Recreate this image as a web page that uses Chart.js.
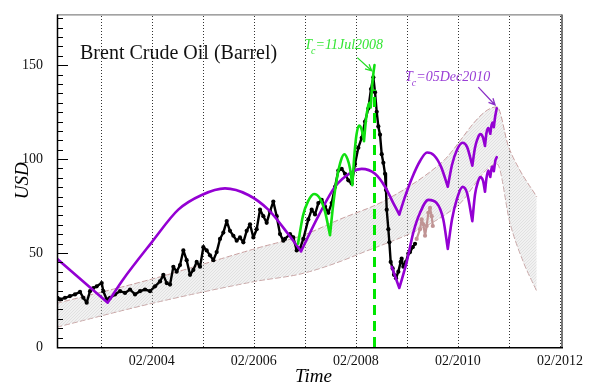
<!DOCTYPE html>
<html>
<head>
<meta charset="utf-8">
<script src="https://cdn.jsdelivr.net/npm/chart.js@4.4.1/dist/chart.umd.min.js"></script>
<style>
  html, body { margin: 0; padding: 0; background: #fff; }
  #wrap { width: 594px; height: 387px; }
</style>
</head>
<body>
<div id="wrap"><canvas id="brentChart" width="594" height="387"></canvas></div>
<script>
// Brent spot price, decimal year / USD per barrel
var priceT = [2002.314, 2002.363, 2002.461, 2002.559, 2002.657, 2002.755, 2002.820, 2002.886, 2002.951, 2003.016,
  2003.082, 2003.180, 2003.212, 2003.278, 2003.343, 2003.441, 2003.539, 2003.637, 2003.735, 2003.833,
  2003.931, 2004.029, 2004.127, 2004.225, 2004.323, 2004.388, 2004.453, 2004.519, 2004.584, 2004.649,
  2004.715, 2004.780, 2004.845, 2004.911, 2004.976, 2005.041, 2005.107, 2005.172, 2005.237, 2005.302,
  2005.368, 2005.433, 2005.498, 2005.564, 2005.629, 2005.694, 2005.760, 2005.825, 2005.890, 2005.956,
  2006.021, 2006.086, 2006.152, 2006.217, 2006.282, 2006.348, 2006.413, 2006.478, 2006.543, 2006.609,
  2006.674, 2006.739, 2006.772, 2006.870, 2006.935, 2007.001, 2007.066, 2007.131, 2007.229, 2007.295,
  2007.360, 2007.425, 2007.491, 2007.556, 2007.621, 2007.687, 2007.752, 2007.817, 2007.883, 2007.948,
  2008.013, 2008.079, 2008.144, 2008.209, 2008.275, 2008.340, 2008.405, 2008.457, 2008.503, 2008.536,
  2008.569, 2008.601, 2008.634, 2008.667, 2008.699, 2008.732, 2008.751, 2008.765, 2008.797, 2008.817,
  2008.843, 2008.882, 2008.908, 2008.947, 2008.993, 2009.039, 2009.058, 2009.091, 2009.143, 2009.189,
  2009.222, 2009.274, 2009.320];
var priceV = [26.2, 25.3, 26.2, 27.1, 28.0, 29.3, 26.2, 23.6, 29.7, 31.4,
  32.3, 34.0, 29.7, 25.3, 26.2, 28.0, 29.7, 28.8, 30.6, 28.0,
  29.7, 30.6, 29.7, 32.3, 34.9, 38.4, 34.0, 33.2, 42.7, 40.1,
  43.6, 51.4, 46.2, 38.4, 41.0, 45.3, 42.7, 53.1, 51.4, 48.8,
  46.2, 50.5, 57.5, 60.9, 67.0, 61.8, 59.2, 56.6, 58.3, 55.7,
  61.8, 65.3, 58.3, 62.7, 73.1, 69.6, 66.1, 72.2, 77.4, 69.6,
  60.1, 56.6, 57.5, 60.1, 58.3, 51.4, 52.3, 57.5, 67.9, 73.1,
  70.5, 76.6, 78.3, 74.8, 71.4, 76.6, 85.2, 93.9, 94.8, 92.2,
  88.7, 87.0, 97.4, 106.1, 111.3, 120.0, 126.9, 137.3, 143.5, 135.6,
  125.2, 117.4, 113.0, 102.6, 98.0, 92.2, 83.5, 73.1, 62.7, 55.7,
  45.3, 41.8, 38.4, 36.6, 40.1, 45.3, 47.0, 42.7, 45.3, 49.7,
  50.5, 53.1, 54.9];

// prices after the fit window
var laterT = [2009.352, 2009.418, 2009.450, 2009.483, 2009.516, 2009.548, 2009.581, 2009.614, 2009.646, 2009.668];
var laterV = [57.5, 62.7, 67.9, 65.3, 59.2, 64.4, 71.4, 74.0, 69.6, 64.4];

// LPPL fit ending at Tc = 11 Jul 2008 (null splits the arcs at their cusps)
var fit2008T = [2007.027, 2007.125, 2007.223, 2007.340, 2007.458, 2007.556, 2007.654, 2007.654,
  2007.654, 2007.713, 2007.791, 2007.870, 2007.934, 2007.997, 2008.046, 2008.091, 2008.091,
  2008.091, 2008.134, 2008.173, 2008.222, 2008.271, 2008.320, 2008.320,
  2008.320, 2008.359, 2008.399, 2008.428, 2008.452, 2008.452,
  2008.452, 2008.477, 2008.506, 2008.526];
var fit2008V = [55, 70, 77.5, 81.4, 79, 72, 59.5, null,
  59.5, 75, 90, 99.5, 102.6, 100, 95, 86.1, null,
  86.1, 103, 113, 117.9, 116, 109.5, null,
  109.5, 121, 128, 130, 127.5, null,
  127.5, 138, 146, 150];

// LPPL fit ending at Tc = 05 Dec 2010, upper branch
var fit2010T = [2002.304, 2003.298, 2003.298,
  2003.298, 2003.572, 2004.160, 2004.681, 2005.140, 2005.596, 2006.053, 2006.445, 2006.837, 2007.086, 2007.086,
  2007.086, 2007.425, 2007.752, 2008.079, 2008.275, 2008.536, 2008.732, 2008.894, 2009.012, 2009.012,
  2009.012, 2009.124, 2009.261, 2009.418, 2009.555, 2009.692, 2009.829, 2009.962, 2009.962,
  2009.962, 2010.045, 2010.143, 2010.251, 2010.339, 2010.443, 2010.443,
  2010.443, 2010.495, 2010.554, 2010.603, 2010.652, 2010.691, 2010.691,
  2010.691, 2010.721, 2010.756, 2010.795, 2010.795,
  2010.795, 2010.819, 2010.838, 2010.864, 2010.864,
  2010.864, 2010.887, 2010.921];
var fit2010V = [47.0, 23.6, null,
  23.6, 34.9, 55.7, 73.1, 80.9, 84.4, 80.9, 73.1, 60.0, 50.9, null,
  50.9, 69.6, 85.3, 93.1, 94.8, 92.2, 85.3, 76.6, 70.5, null,
  70.5, 80, 90, 99, 103.5, 102, 96, 85.3, null,
  85.3, 97, 105, 108.7, 106.5, 96.5, null,
  96.5, 106, 111.5, 113.3, 111.5, 107, null,
  107, 114, 116.5, 113.5, null,
  113.5, 118, 119.5, 117, null,
  117, 122, 127];

// same fit, lower branch
var fit2010LowT = [2008.863, 2009.012, 2009.012,
  2009.012, 2009.157, 2009.286, 2009.418, 2009.580, 2009.745, 2009.874, 2009.962, 2009.962,
  2009.962, 2010.045, 2010.143, 2010.251, 2010.339, 2010.443, 2010.443,
  2010.443, 2010.495, 2010.554, 2010.599, 2010.652, 2010.691, 2010.691,
  2010.691, 2010.721, 2010.756, 2010.795, 2010.795,
  2010.795, 2010.825, 2010.844, 2010.864, 2010.864,
  2010.864, 2010.897, 2010.921];
var fit2010LowV = [42.7, 31.4, null,
  31.4, 45.3, 60.9, 71.4, 78.3, 76.6, 67.9, 52.2, null,
  52.2, 68, 79, 85.2, 82, 67, null,
  67, 81, 88, 90.4, 88.5, 82.6, null,
  82.6, 90, 93.9, 90.5, null,
  90.5, 95.5, 96, 93.5, null,
  93.5, 99.5, 101];

// confidence band edges
var bandUpT = [2002.304, 2004.225, 2005.204, 2006.184, 2007.125, 2007.850, 2008.732, 2009.810, 2010.927, 2011.148, 2011.377, 2011.705];
var bandUpV = [23.3, 36.6, 44.4, 52.3, 59.5, 68, 78, 97.4, 127.8, 107, 94, 80];
var bandLowT = [2002.304, 2004.225, 2006.184, 2007.125, 2008.177, 2010.137, 2010.927, 2011.181, 2011.442, 2011.705];
var bandLowV = [10.6, 23.6, 34.9, 39.2, 49, 74.8, 97.4, 66, 45.3, 29.7];

// critical time of the 2008 bubble
var tc2008 = 2008.526;
var tc2008Top = 137;

// axes
var yearTicks = [2003.16, 2004.16, 2005.16, 2006.16, 2007.16, 2008.16, 2009.16, 2010.16, 2011.16, 2012.16];
var yearLabels = ['', '02/2004', '', '02/2006', '', '02/2008', '', '02/2010', '', '02/2012'];
var yTicks = [0, 50, 100, 150];
var xMin = 2002.304, xMax = 2012.200, yMax = 177;

// text anchors (decimal year, USD)
var titleAt = [2002.755, 153.5];
var label2008At = [2007.150, 158.7];
var arrow2008 = [[2008.189, 154.0], [2008.471, 147.0]];
var label2010At = [2009.124, 141.8];
var arrow2010 = [[2010.560, 138.3], [2010.888, 128.8]];

function zip(ts, vs) {
    return ts.map(function(t, i) { return { x: t, y: vs[i] }; });
}

var ctx = document.getElementById('brentChart').getContext('2d');

// fine light hatching for the band
function hatch() {
    var c = document.createElement('canvas');
    c.width = 3; c.height = 3;
    var g = c.getContext('2d');
    g.fillStyle = 'rgba(215,215,215,0.35)';
    g.fillRect(0, 0, 3, 3);
    g.fillStyle = 'rgba(170,170,170,0.22)';
    for (var i = 0; i < 3; i++) g.fillRect(i, 2 - i, 1, 1);
    return ctx.createPattern(c, 'repeat');
}

var SERIF = '"Liberation Serif", "Times New Roman", serif';
var GREEN = '#10e010';
var PURPLE = '#9400d3';

function drawTc(c, x, y, rest, color) {
    c.save();
    c.fillStyle = color;
    c.textBaseline = 'alphabetic';
    c.font = 'italic 14px ' + SERIF;
    c.fillText('T', x, y);
    var w = c.measureText('T').width;
    c.font = 'italic 10px ' + SERIF;
    c.fillText('c', x + w - 1, y + 5);
    var wc = c.measureText('c').width;
    c.font = 'italic 14px ' + SERIF;
    c.fillText(rest, x + w - 1 + wc, y);
    c.restore();
}

function drawArrow(c, x1, y1, x2, y2, color) {
    var a = Math.atan2(y2 - y1, x2 - x1), h = 7, s = 0.45;
    c.save();
    c.strokeStyle = color;
    c.lineWidth = 1.3;
    c.beginPath();
    c.moveTo(x1, y1); c.lineTo(x2, y2);
    c.moveTo(x2 - h * Math.cos(a - s), y2 - h * Math.sin(a - s));
    c.lineTo(x2, y2);
    c.lineTo(x2 - h * Math.cos(a + s), y2 - h * Math.sin(a + s));
    c.stroke();
    c.restore();
}

var decor = {
    id: 'decor',
    beforeDatasetsDraw: function(chart) {
        var c = chart.ctx, area = chart.chartArea, xs = chart.scales.x;
        c.save();
        c.strokeStyle = '#333';
        c.lineWidth = 1;
        c.setLineDash([1, 2]);
        yearTicks.forEach(function(v) {
            var px = Math.round(xs.getPixelForValue(v)) + 0.5;
            c.beginPath();
            c.moveTo(px, area.bottom);
            c.lineTo(px, area.top);
            c.stroke();
        });
        c.restore();
    },
    afterDraw: function(chart) {
        var c = chart.ctx, area = chart.chartArea, xs = chart.scales.x, ys = chart.scales.y;
        var px = function(t) { return xs.getPixelForValue(t); };
        var py = function(v) { return ys.getPixelForValue(v); };
        c.save();

        // frame
        c.lineWidth = 1;
        c.strokeStyle = '#666';
        c.beginPath();
        c.moveTo(area.left, area.top + 0.5); c.lineTo(area.right, area.top + 0.5);
        c.stroke();
        c.lineWidth = 2;
        c.strokeStyle = '#777';
        c.beginPath();
        c.moveTo(area.right, area.top); c.lineTo(area.right, area.bottom);
        c.stroke();
        c.lineWidth = 1.5;
        c.strokeStyle = '#000';
        c.beginPath();
        c.moveTo(area.left + 0.5, area.top); c.lineTo(area.left + 0.5, area.bottom + 0.75);
        c.lineTo(area.right + 1, area.bottom + 0.75);
        c.stroke();

        // y ticks drawn inward
        c.lineWidth = 1;
        for (var v = 0; v <= ys.max; v += 5) {
            var y = Math.round(py(v)) + 0.5;
            var len = v % 50 === 0 ? 11 : 6;
            c.beginPath();
            c.moveTo(area.left, y); c.lineTo(area.left + len, y);
            c.stroke();
        }

        // title
        c.fillStyle = '#111';
        c.font = '20px ' + SERIF;
        c.textBaseline = 'alphabetic';
        c.fillText('Brent Crude Oil (Barrel)', px(titleAt[0]), py(titleAt[1]));

        // critical time labels
        drawTc(c, px(label2008At[0]), py(label2008At[1]), '=11Jul2008', '#33e633');
        drawArrow(c, px(arrow2008[0][0]), py(arrow2008[0][1]), px(arrow2008[1][0]), py(arrow2008[1][1]), '#22dd22');
        drawTc(c, px(label2010At[0]), py(label2010At[1]), '=05Dec2010', '#9a3fd6');
        drawArrow(c, px(arrow2010[0][0]), py(arrow2010[0][1]), px(arrow2010[1][0]), py(arrow2010[1][1]), '#8a2fc6');

        // axis titles
        c.fillStyle = '#000';
        c.font = 'italic 19px ' + SERIF;
        c.textAlign = 'center';
        c.fillText('Time', (area.left + area.right) / 2 + 4, area.bottom + 35);
        c.translate(22.5, (area.top + area.bottom) / 2);
        c.rotate(-Math.PI / 2);
        c.textBaseline = 'middle';
        c.fillText('USD', 0, 0);
        c.restore();
    }
};

var lineBase = {
    pointRadius: 0,
    tension: 0,
    spanGaps: false,
    borderCapStyle: 'round',
    borderJoinStyle: 'round'
};

var brentChart = new Chart(ctx, {
    type: 'line',
    data: {
        datasets: [
            Object.assign({}, lineBase, {
                label: 'Tc 2008',
                data: [{ x: tc2008, y: 0 }, { x: tc2008, y: tc2008Top }],
                borderColor: '#00e600',
                borderWidth: 3,
                borderDash: [10, 6],
                borderCapStyle: 'butt',
                order: 0
            }),
            Object.assign({}, lineBase, {
                label: 'LPPL 2008',
                data: zip(fit2008T, fit2008V),
                borderColor: GREEN,
                borderWidth: 2.6,
                cubicInterpolationMode: 'monotone',
                order: 1
            }),
            Object.assign({}, lineBase, {
                label: 'LPPL 2010',
                data: zip(fit2010T, fit2010V),
                borderColor: PURPLE,
                borderWidth: 2.6,
                cubicInterpolationMode: 'monotone',
                order: 2
            }),
            Object.assign({}, lineBase, {
                label: 'LPPL 2010 low',
                data: zip(fit2010LowT, fit2010LowV),
                borderColor: PURPLE,
                borderWidth: 2.6,
                cubicInterpolationMode: 'monotone',
                order: 3
            }),
            Object.assign({}, lineBase, {
                label: 'Brent',
                data: zip(priceT, priceV),
                borderColor: '#000',
                borderWidth: 2.4,
                pointRadius: 2.1,
                pointBackgroundColor: '#000',
                pointBorderWidth: 0,
                order: 4
            }),
            Object.assign({}, lineBase, {
                label: 'Brent later',
                data: zip(laterT, laterV),
                borderColor: '#c09494',
                borderWidth: 2.2,
                pointRadius: 2.1,
                pointBackgroundColor: '#c09494',
                pointBorderWidth: 0,
                order: 5
            }),
            Object.assign({}, lineBase, {
                label: 'band upper',
                data: zip(bandUpT, bandUpV),
                borderColor: '#c8a0a0',
                borderWidth: 1,
                borderDash: [5, 3],
                cubicInterpolationMode: 'monotone',
                fill: '+1',
                backgroundColor: hatch(),
                order: 6
            }),
            Object.assign({}, lineBase, {
                label: 'band lower',
                data: zip(bandLowT, bandLowV),
                borderColor: '#c8a0a0',
                borderWidth: 1,
                borderDash: [5, 3],
                cubicInterpolationMode: 'monotone',
                order: 7
            })
        ]
    },
    options: {
        responsive: false,
        animation: false,
        events: [],
        layout: { padding: { left: 0, top: 7, right: 32, bottom: 0 } },
        plugins: {
            legend: { display: false },
            tooltip: { enabled: false }
        },
        scales: {
            x: {
                type: 'linear',
                min: xMin,
                max: xMax,
                grid: { display: false },
                border: { display: false },
                afterBuildTicks: function(scale) {
                    scale.ticks = yearTicks.map(function(v) { return { value: v }; });
                },
                afterFit: function(scale) { scale.height = 40; },
                ticks: {
                    autoSkip: false,
                    maxRotation: 0,
                    padding: -2,
                    color: '#111',
                    font: { family: SERIF, size: 14 },
                    callback: function(value, index) { return yearLabels[index]; }
                }
            },
            y: {
                min: 0,
                max: yMax,
                grid: { display: false },
                border: { display: false },
                afterBuildTicks: function(scale) {
                    scale.ticks = yTicks.map(function(v) { return { value: v }; });
                },
                afterFit: function(scale) { scale.width = 57; },
                ticks: {
                    padding: 6,
                    color: '#111',
                    font: { family: SERIF, size: 14 }
                }
            }
        }
    },
    plugins: [decor]
});
</script>
</body>
</html>
